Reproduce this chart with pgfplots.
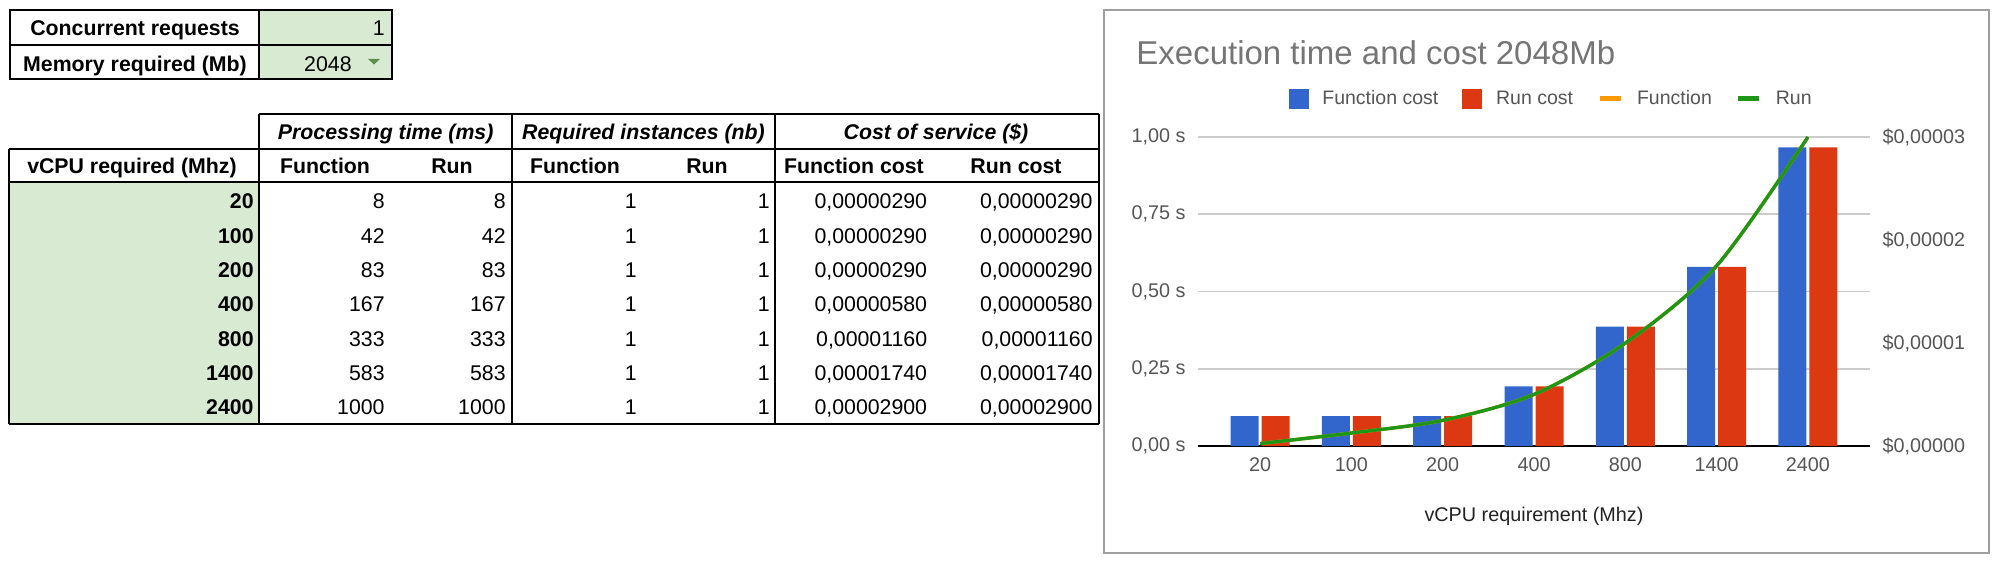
\documentclass[border=0pt]{standalone}
\usepackage{fontspec}
\setmainfont{Liberation Sans}
\usepackage{pgfplots}
\pgfplotsset{compat=1.18}
\usepackage{pgfplotstable}

\definecolor{cellgreen}{HTML}{D9EAD3}
\definecolor{ddgreen}{HTML}{5E8F4A}
\definecolor{gblue}{HTML}{3366CC}
\definecolor{gred}{HTML}{DC3912}
\definecolor{gorange}{HTML}{FF9900}
\definecolor{ggreen}{HTML}{1E9618}
\definecolor{gridgray}{HTML}{CCCCCC}
\definecolor{titlegray}{HTML}{757575}
\definecolor{labgray}{HTML}{555555}
\definecolor{axisdark}{HTML}{222222}
\definecolor{framegray}{HTML}{9E9E9E}

% x = category index (20,100,200,400,800,1400,2400 Mhz)
\pgfplotstableread{
x  fcost     rcost     ftime  rtime
0  0.0000029 0.0000029 0.008  0.008
1  0.0000029 0.0000029 0.042  0.042
2  0.0000029 0.0000029 0.083  0.083
3  0.0000058 0.0000058 0.167  0.167
4  0.0000116 0.0000116 0.333  0.333
5  0.0000174 0.0000174 0.583  0.583
6  0.000029  0.000029  1.000  1.000
}\chartdata

\pgfplotsset{
  chartax/.style={
    at={(599pt,-223pt)}, anchor=south west, scale only axis,
    width=336pt, height=154.5pt,
    xmin=-0.68, xmax=6.68, ymin=0,
    axis line style={draw=none},
    major tick style={draw=none}, minor tick style={draw=none},
    ticklabel style={font=\fontsize{9.9}{11}\selectfont, text=labgray},
  },
}

\begin{document}
\fontsize{10.65}{12}\selectfont
\begin{tikzpicture}[x=0.5pt, y=-0.5pt]
\useasboundingbox (0,0) rectangle (2000,566);

% ---- small input table
\fill[cellgreen] (259,10) rectangle (392,79);
\draw[line width=1pt] (10,10) rectangle (392,79);
\draw[line width=1pt] (10,45) -- (392,45) (259,10) -- (259,79);
\begin{scope}[every node/.style={inner sep=0pt}]
\node[anchor=base, font=\bfseries] at (135,36) {Concurrent requests};
\node[anchor=base, font=\bfseries] at (135,71.7) {Memory required (Mb)};
\node[anchor=base east] at (385,36) {1};
\node[anchor=base east] at (352,71.7) {2048};
\end{scope}
\fill[ddgreen] (368,59) -- (380,59) -- (374,64.5) -- cycle;

% ---- main table
\fill[cellgreen] (9,182) rectangle (259,424);
\draw[line width=0.85pt] (259,114) -- (1099,114);
\draw[line width=0.85pt] (9,148.7) -- (1099,148.7);
\draw[line width=1.35pt] (9,182) -- (1099,182);
\draw[line width=1.35pt] (9,424) -- (1099,424);
\draw[line width=0.85pt] (9,148.7) -- (9,424);
\foreach \xx in {259,512,775,1099} \draw[line width=0.85pt] (\xx,114) -- (\xx,424);
\begin{scope}[every node/.style={inner sep=0pt}]
\node[anchor=base, font=\bfseries\itshape] at (385.7,139.3) {Processing time (ms)};
\node[anchor=base, font=\bfseries\itshape] at (643.5,139.3) {Required instances (nb)};
\node[anchor=base, font=\bfseries\itshape] at (936,139.3) {Cost of service (\$)};
\node[anchor=base, font=\bfseries] at (132,174) {vCPU required (Mhz)};
\node[anchor=base, font=\bfseries] at (325,174) {Function};
\node[anchor=base, font=\bfseries] at (452,174) {Run};
\node[anchor=base, font=\bfseries] at (575,174) {Function};
\node[anchor=base, font=\bfseries] at (707,174) {Run};
\node[anchor=base, font=\bfseries] at (854,174) {Function cost};
\node[anchor=base, font=\bfseries] at (1016,174) {Run cost};
\foreach \v/\t/\c [count=\i from 0] in {20/8/00290,100/42/00290,200/83/00290,400/167/00580,800/333/01160,1400/583/01740,2400/1000/02900}{
  \pgfmathsetmacro\yy{209+34.33*\i}
  \node[anchor=base east, font=\bfseries] at (254,\yy) {\v};
  \node[anchor=base east] at (385,\yy) {\t};
  \node[anchor=base east] at (506,\yy) {\t};
  \node[anchor=base east] at (637,\yy) {1};
  \node[anchor=base east] at (770,\yy) {1};
  \node[anchor=base east] at (927.5,\yy) {0,000\c};
  \node[anchor=base east] at (1093,\yy) {0,000\c};
}
\end{scope}

% ---- chart frame and title
\draw[framegray, line width=0.8pt] (1104,10) rectangle (1989,553);
\node[anchor=base west, inner sep=0pt, text=titlegray, font=\fontsize{16.5}{18}\selectfont] at (1136,65) {Execution time and cost 2048Mb};

% grid, left labels, categories
\begin{axis}[chartax, ymax=1,
  ytick={0,0.25,0.5,0.75,1},
  yticklabels={{0,00 s},{0,25 s},{0,50 s},{0,75 s},{1,00 s}},
  ymajorgrids, grid style={gridgray, line width=0.9pt},
  xtick={0,...,6}, xticklabels={20,100,200,400,800,1400,2400},
  xlabel={vCPU requirement (Mhz)},
  xlabel style={at={(axis description cs:0.5,0)}, anchor=base, yshift=-37.8pt,
    font=\fontsize{9.9}{11}\selectfont, text=axisdark},
  yticklabel style={xshift=-2.5pt},
  xticklabel style={yshift=-2pt},
]
\draw[black, line width=1.1pt] (rel axis cs:0,0) -- (rel axis cs:1,0);
\end{axis}

% cost bars, right axis
\begin{axis}[chartax, ymax=0.00003, scaled y ticks=false,
  ybar=1.5pt, bar width=14pt,
  xtick=\empty,
  ytick={0,0.00001,0.00002,0.00003},
  yticklabels={{\$0,00000},{\$0,00001},{\$0,00002},{\$0,00003}},
  yticklabel pos=right,
  yticklabel style={xshift=2.5pt},
]
\addplot[fill=gblue, draw=none] table[x=x, y=fcost] {\chartdata};
\addplot[fill=gred, draw=none] table[x=x, y=rcost] {\chartdata};
\end{axis}

% processing time lines and legend
\begin{axis}[chartax, ymax=1, xtick=\empty, ytick=\empty, clip=false,
  legend style={at={(axis description cs:0.1347,1.123)}, anchor=west,
    draw=none, fill=none, inner sep=0pt, outer sep=0pt,
    font=\fontsize{9.75}{11}\selectfont, text=labgray,
    nodes={inner sep=0pt},
    /tikz/every odd column/.append style={column sep=7pt},
    /tikz/every even column/.append style={column sep=12pt}},
  legend columns=4,
]
\addlegendimage{legend image code/.code={\fill[gblue] (0pt,-4.75pt) rectangle (9.5pt,4.75pt);}}
\addlegendentry{Function cost}
\addlegendimage{legend image code/.code={\fill[gred] (0pt,-4.75pt) rectangle (9.5pt,4.75pt);}}
\addlegendentry{Run cost}
\addplot[gorange, line width=1.7pt, smooth,
  legend image code/.code={\draw[gorange, line width=2.5pt] (0pt,0pt) -- (10.5pt,0pt);}]
  table[x=x, y=ftime] {\chartdata};
\addlegendentry{Function}
\addplot[ggreen, line width=1.7pt, smooth,
  legend image code/.code={\draw[ggreen, line width=2.5pt] (0pt,0pt) -- (10.5pt,0pt);}]
  table[x=x, y=rtime] {\chartdata};
\addlegendentry{Run}
\end{axis}
\end{tikzpicture}
\end{document}
